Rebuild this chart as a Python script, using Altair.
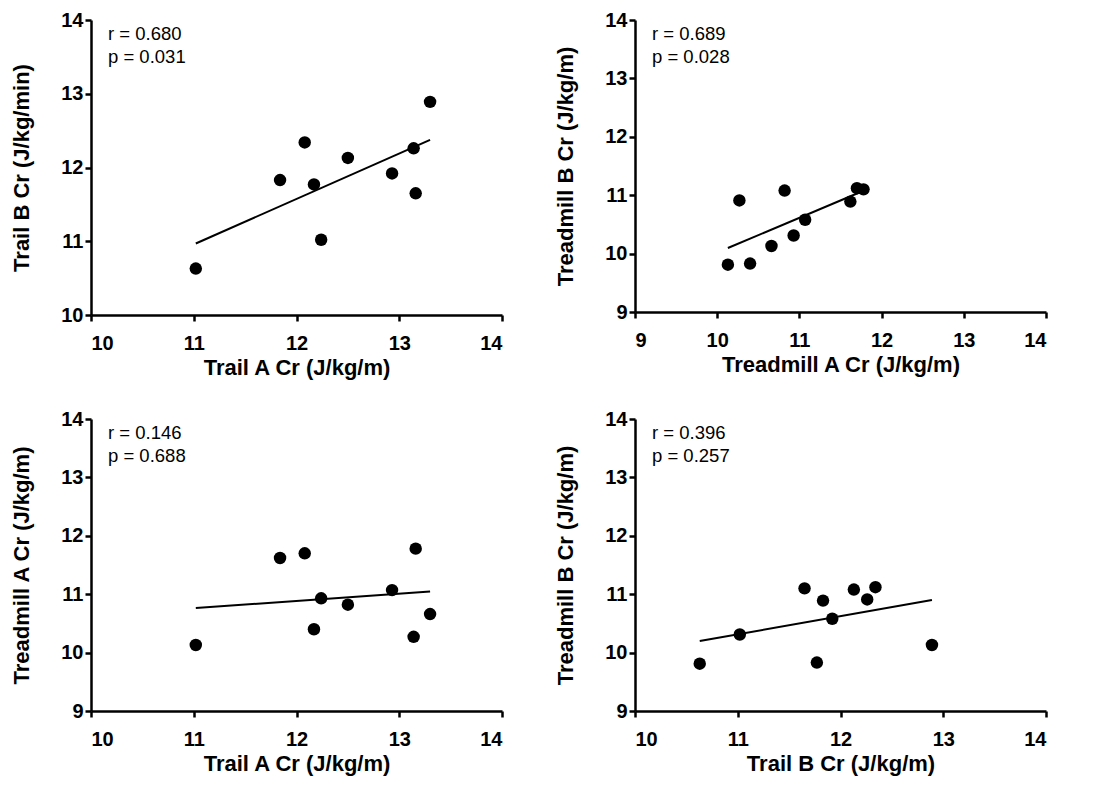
import altair as alt
import pandas as pd

# Per-subject values (10 subjects)
trail_a = [11.02, 11.84, 12.08, 12.17, 12.24, 12.50, 12.93, 13.14, 13.16, 13.30]
trail_b = [10.63, 11.83, 12.34, 11.77, 11.02, 12.13, 11.92, 12.26, 11.65, 12.89]
tread_a = [10.13, 11.62, 11.70, 10.40, 10.93, 10.82, 11.07, 10.27, 11.78, 10.66]
tread_b = [9.81, 10.89, 11.12, 9.83, 10.31, 11.08, 10.58, 10.91, 11.10, 10.13]

r_labels = ["r = 0.680", "r = 0.689", "r = 0.146", "r = 0.396"]
p_labels = ["p = 0.031", "p = 0.028", "p = 0.688", "p = 0.257"]

x_fields = ["trail_a", "tread_a", "trail_a", "trail_b"]
y_fields = ["trail_b", "tread_b", "tread_a", "tread_b"]
x_titles = ["Trail A Cr (J/kg/m)", "Treadmill A Cr (J/kg/m)", "Trail A Cr (J/kg/m)", "Trail B Cr (J/kg/m)"]
y_titles = ["Trail B Cr (J/kg/min)", "Treadmill B Cr (J/kg/m)", "Treadmill A Cr (J/kg/m)", "Treadmill B Cr (J/kg/m)"]
x_mins = [10, 9, 10, 10]
y_mins = [10, 9, 9, 9]
axis_max = 14

df = pd.DataFrame({"trail_a": trail_a, "trail_b": trail_b, "tread_a": tread_a, "tread_b": tread_b})

FONT = "Liberation Sans"
W = 411
HEIGHTS = [295, 292, 292, 292]

common_axis = dict(
    grid=False, format="d",
    domainColor="black", domainWidth=2.5,
    tickColor="black", tickWidth=2.5, tickSize=6,
    labelFont=FONT, labelFontSize=20, labelFontWeight="bold", labelColor="black",
    titleFont=FONT, titleFontSize=22, titleFontWeight="bold", titleColor="black",
)


def panel(i):
    xf, yf = x_fields[i], y_fields[i]
    xs = alt.X(f"{xf}:Q", title=x_titles[i],
               scale=alt.Scale(domain=[x_mins[i], axis_max], nice=False, zero=False),
               axis=alt.Axis(values=list(range(x_mins[i], axis_max + 1)),
                             labelPadding=12, titlePadding=4, **common_axis))
    ys = alt.Y(f"{yf}:Q", title=y_titles[i],
               scale=alt.Scale(domain=[y_mins[i], axis_max], nice=False, zero=False),
               axis=alt.Axis(values=list(range(y_mins[i], axis_max + 1)),
                             labelPadding=2, titlePadding=27, **common_axis))
    base = alt.Chart(df)
    pts = base.mark_circle(size=155, color="black", opacity=1).encode(x=xs, y=ys)
    reg = base.transform_regression(xf, yf).mark_line(color="black", strokeWidth=2).encode(x=xs, y=ys)
    note = pd.DataFrame({"r": [r_labels[i]], "p": [p_labels[i]]})
    t1 = alt.Chart(note).mark_text(align="left", baseline="alphabetic", fontSize=18.5, font=FONT,
                                   fontWeight="normal", color="black").encode(
        x=alt.value(17), y=alt.value(20), text="r:N")
    t2 = alt.Chart(note).mark_text(align="left", baseline="alphabetic", fontSize=18.5, font=FONT,
                                   fontWeight="normal", color="black").encode(
        x=alt.value(17), y=alt.value(43), text="p:N")
    return alt.layer(reg, pts, t1, t2).properties(width=W, height=HEIGHTS[i])


row1 = alt.hconcat(panel(0), panel(1), spacing=50)
row2 = alt.hconcat(panel(2), panel(3), spacing=50)
chart = alt.vconcat(row1, row2, spacing=31).configure_view(stroke=None).properties(
    padding={"left": 2, "top": 2, "right": 2, "bottom": 2})

chart.save("out.html", embed_options={"renderer": "svg", "actions": False})
